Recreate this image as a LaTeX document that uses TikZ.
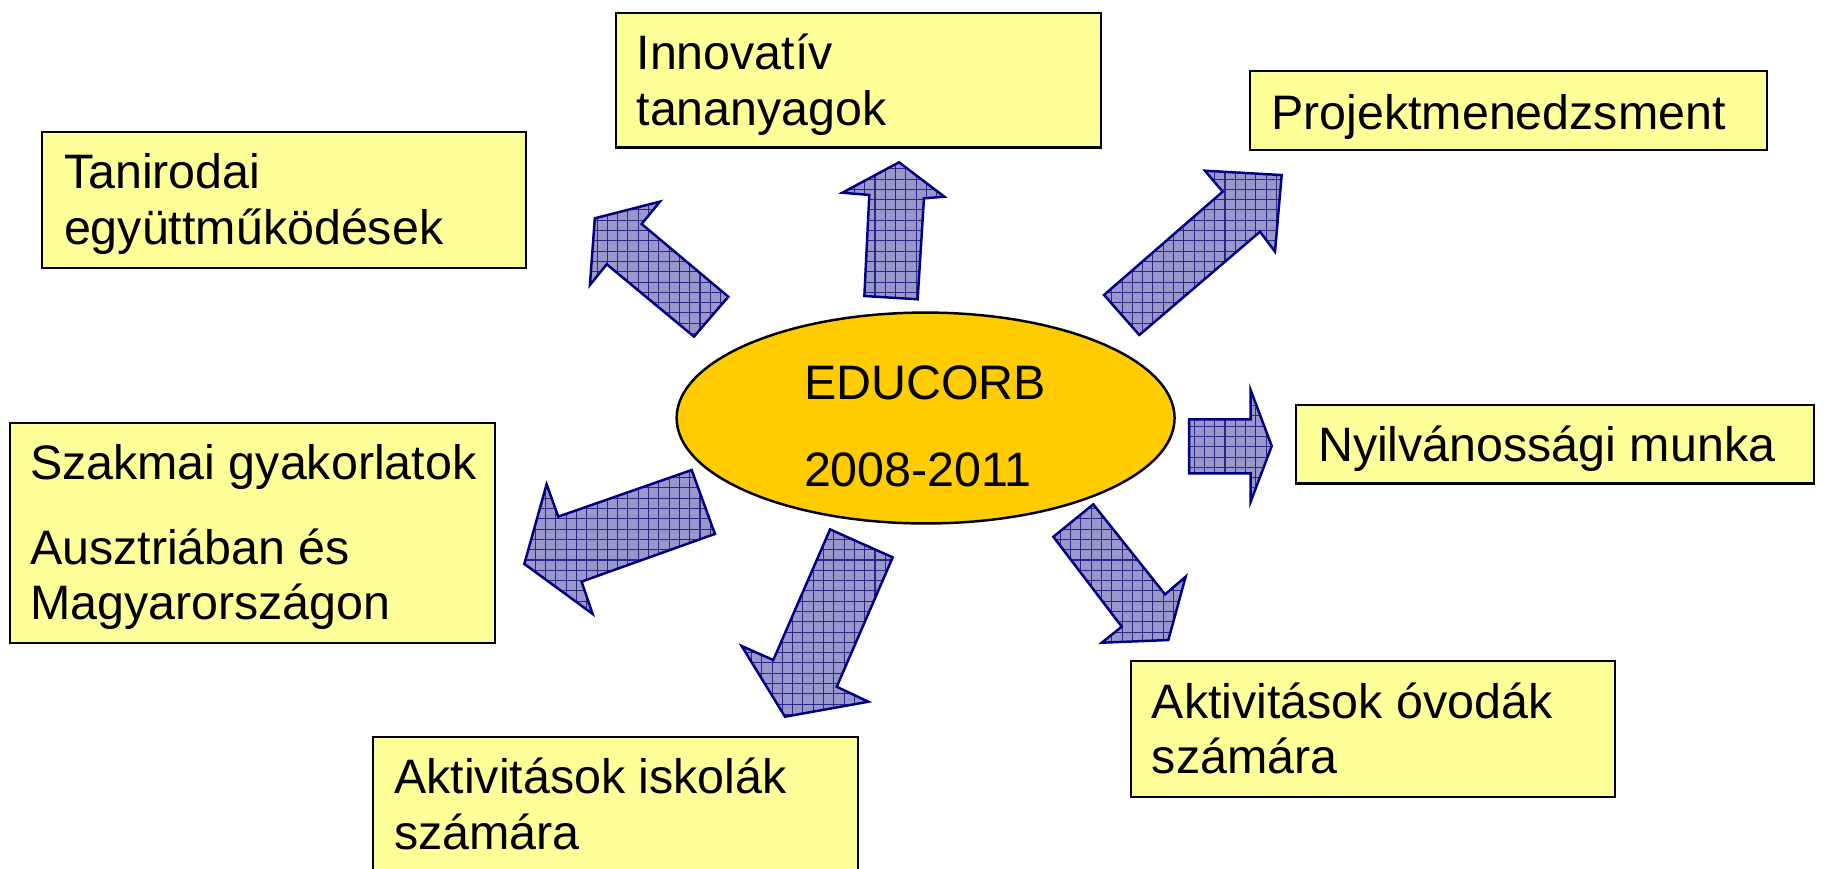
\documentclass[tikz,border=0pt]{standalone}
\usepackage{fontspec}
\setmainfont{Liberation Sans}
\usetikzlibrary{patterns,shapes.geometric}
\definecolor{boxyellow}{RGB}{255,255,153}
\definecolor{ellyellow}{RGB}{255,204,0}
\definecolor{arrownavy}{RGB}{0,0,128}
\definecolor{arrowfill}{RGB}{152,152,204}
\definecolor{gridnavy}{RGB}{40,40,130}
\pgfdeclarepatternformonly{navygrid}{\pgfqpoint{-0.2pt}{-0.2pt}}{\pgfqpoint{2.7pt}{2.7pt}}{\pgfqpoint{2.5pt}{2.5pt}}{%
  \pgfsetlinewidth{0.25pt}%
  \pgfpathmoveto{\pgfqpoint{0pt}{0pt}}\pgfpathlineto{\pgfqpoint{2.5pt}{0pt}}%
  \pgfpathmoveto{\pgfqpoint{0pt}{0pt}}\pgfpathlineto{\pgfqpoint{0pt}{2.5pt}}%
  \pgfusepath{stroke}}
\tikzset{
  box/.style={draw=black, line width=0.5pt, fill=boxyellow, anchor=north west, inner sep=0pt},
  txt/.style={anchor=base west, inner sep=0pt, font=\fontsize{11.75pt}{13.5pt}\selectfont},
  blockarrow/.style={draw=arrownavy, line width=0.6pt, line join=miter, preaction={fill=arrowfill}, pattern=navygrid, pattern color=gridnavy}
}
\begin{document}
\begin{tikzpicture}[x=0.01cm,y=-0.01cm]
\useasboundingbox (0,0) rectangle (1568,742);
\clip (0,0) rectangle (1568,742);
\fill[white] (0,0) rectangle (1568,742);

% boxes
\node[box, minimum width=4.14cm, minimum height=1.15cm] (innov) at (525,10) {};
\node[box, minimum width=4.41cm, minimum height=0.67cm] (proj) at (1067,60) {};
\node[box, minimum width=4.13cm, minimum height=1.16cm] (tanir) at (35,112) {};
\node[box, minimum width=4.42cm, minimum height=0.67cm] (nyilv) at (1106,345) {};
\node[box, minimum width=4.14cm, minimum height=1.88cm] (szak) at (8,360) {};
\node[box, minimum width=4.13cm, minimum height=1.16cm] (ovod) at (965,564) {};
\node[box, minimum width=4.14cm, minimum height=1.60cm] (isk) at (318,628.6) {};

% box texts
\node[txt] (t1a) at (543,59.4) {Innovatív};
\node[txt] (t1b) at (543,106.8) {tananyagok};
\node[txt] (t2) at (1085,110.5) {Projektmenedzsment};
\node[txt] (t3a) at (54,161.4) {Tanirodai};
\node[txt] (t3b) at (54,208.8) {együttműködések};
\node[txt] (t4) at (1125,394.5) {Nyilvánossági munka};
\node[txt] (t5a) at (25,409.4) {Szakmai gyakorlatok};
\node[txt] (t5b) at (25,482) {Ausztriában és};
\node[txt] (t5c) at (25,529.4) {Magyarországon};
\node[txt] (t6a) at (983,613.4) {Aktivitások óvodák};
\node[txt] (t6b) at (983,660.8) {számára};
\node[txt] (t7a) at (336,678) {Aktivitások iskolák};
\node[txt] (t7b) at (336,725.4) {számára};

% centre ellipse
\node[ellipse, draw=black, line width=0.6pt, fill=ellyellow, minimum width=4.25cm, minimum height=1.80cm, inner sep=0pt] (centre) at (790.5,357) {};
\node[txt] (c1) at (686,341.6) {EDUCORB};
\node[txt] (c2) at (686,415.6) {2008-2011};

% block arrows
\draw[blockarrow] (508,186.4) -- (563.6,172.2) -- (548,191.3) -- (622,253.4) -- (592.7,287.5) -- (518.2,225.7) -- (503.8,243.4) -- cycle;
\draw[blockarrow] (767.8,138.6) -- (806.5,168) -- (789.1,169.4) -- (783.7,255.6) -- (738.2,252.8) -- (742.4,166.5) -- (719.4,164.6) -- cycle;
\draw[blockarrow] (1094.6,149.5) -- (1088.9,214.9) -- (1076.1,197.9) -- (973,286.1) -- (942.9,251.9) -- (1044.2,163.7) -- (1029.1,145.8) -- cycle;
\draw[blockarrow] (447.8,481.6) -- (466.8,413.6) -- (476.8,441.2) -- (590.7,401.4) -- (610.6,456) -- (496.7,496.7) -- (506.1,524.3) -- cycle;
\draw[blockarrow] (1086.1,380.9) -- (1068.1,428.5) -- (1068.1,404.2) -- (1015.5,404.2) -- (1015.5,358.1) -- (1068.1,358.1) -- (1068.1,333.1) -- cycle;
\draw[blockarrow] (997.8,546.6) -- (940.9,548.9) -- (958,535.2) -- (899.6,458.4) -- (933.7,430.7) -- (995,507.6) -- (1012.6,492.5) -- cycle;
\draw[blockarrow] (670.4,612.1) -- (633.4,551.7) -- (660.4,563.7) -- (708.9,452.1) -- (762.4,476) -- (714.6,586.5) -- (741.6,599.3) -- cycle;
\end{tikzpicture}
\end{document}
